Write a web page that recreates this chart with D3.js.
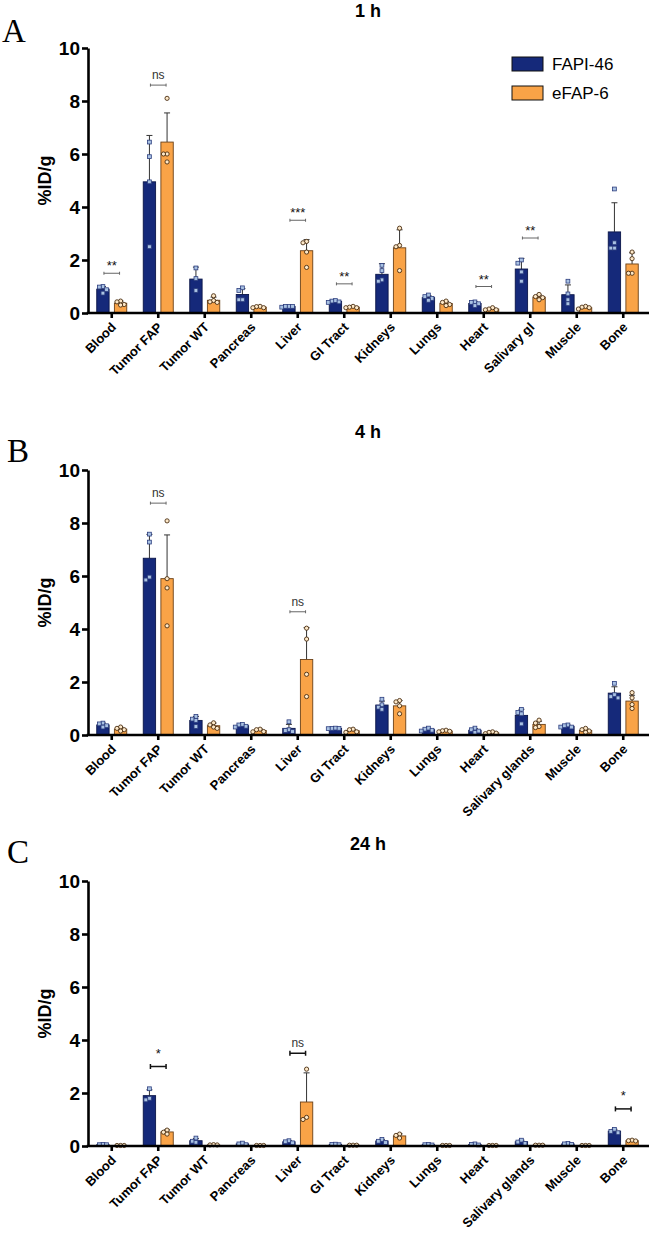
<!DOCTYPE html>
<html>
<head>
<meta charset="utf-8">
<script src="https://cdn.jsdelivr.net/npm/d3@7"></script>
<style>
  body { margin: 0; background: #fff; }
  svg { display: block; }
  text { font-family: "Liberation Sans", Arial, sans-serif; }
</style>
</head>
<body>
<svg id="chart" width="649" height="1243"></svg>
<script>
// ---- data ----
const organs1h = ['Blood','Tumor FAP','Tumor WT','Pancreas','Liver','GI Tract','Kidneys','Lungs','Heart','Salivary gl','Muscle','Bone'];
const organs = ['Blood','Tumor FAP','Tumor WT','Pancreas','Liver','GI Tract','Kidneys','Lungs','Heart','Salivary glands','Muscle','Bone'];
const series = ['FAPI-46', 'eFAP-6'];
const yTicks = [0, 2, 4, 6, 8, 10];

// 1 h
const fapiMean1h = [0.90, 4.95, 1.28, 0.70, 0.25, 0.44, 1.46, 0.58, 0.36, 1.66, 0.69, 3.06];
const fapiSd1h   = [0.10, 1.75, 0.45, 0.22, 0.02, 0.03, 0.40, 0.08, 0.06, 0.40, 0.37, 1.10];
const fapiPts1h = [
  [1.0, 0.98, 0.88, 0.75], [6.45, 5.9, 4.95, 2.5], [1.7, 1.3, 0.85], [0.95, 0.85, 0.5, 0.5],
  [0.25, 0.25, 0.25, 0.22], [0.47, 0.45, 0.42, 0.4], [1.8, 1.6, 1.25, 1.2], [0.68, 0.62, 0.55, 0.48],
  [0.42, 0.4, 0.35, 0.28], [2.0, 1.88, 1.55, 1.2], [1.2, 0.72, 0.5, 0.35], [4.68, 2.65, 2.45, 2.45]
];
const efapMean1h = [0.37, 6.45, 0.48, 0.22, 2.35, 0.22, 2.46, 0.36, 0.15, 0.60, 0.20, 1.85];
const efapSd1h   = [0.08, 1.10, 0.12, 0.03, 0.42, 0.03, 0.68, 0.07, 0.04, 0.08, 0.04, 0.42];
const efapPts1h = [
  [0.45, 0.42, 0.32, 0.3], [8.1, 6.0, 6.0, 5.7], [0.65, 0.47, 0.42, 0.4], [0.25, 0.24, 0.2, 0.2],
  [2.7, 2.65, 2.3, 1.72], [0.25, 0.22, 0.2, 0.2], [3.2, 2.55, 2.5, 1.6], [0.45, 0.4, 0.32, 0.28],
  [0.2, 0.15, 0.12, 0.12], [0.7, 0.62, 0.58, 0.5], [0.25, 0.22, 0.2, 0.15], [2.3, 2.05, 1.5, 1.5]
];
const sig1h = [
  { organ: 'Blood', y: 1.5, label: '**' }, { organ: 'Tumor FAP', y: 8.6, label: 'ns' },
  { organ: 'Liver', y: 3.5, label: '***' }, { organ: 'GI Tract', y: 1.1, label: '**' },
  { organ: 'Heart', y: 1.0, label: '**' }, { organ: 'Salivary gl', y: 2.83, label: '**' }
];

// 4 h
const fapiMean4h = [0.38, 6.67, 0.55, 0.35, 0.25, 0.25, 1.13, 0.20, 0.18, 0.74, 0.33, 1.58];
const fapiSd4h   = [0.07, 0.90, 0.15, 0.04, 0.15, 0.01, 0.15, 0.04, 0.06, 0.23, 0.04, 0.24];
const fapiPts4h = [
  [0.45, 0.42, 0.35, 0.3], [7.58, 7.28, 5.96, 5.85], [0.7, 0.6, 0.55, 0.32], [0.4, 0.38, 0.33, 0.3],
  [0.5, 0.2, 0.17, 0.13], [0.26, 0.25, 0.25, 0.24], [1.35, 1.14, 1.05, 0.97], [0.26, 0.22, 0.18, 0.15],
  [0.26, 0.2, 0.15, 0.1], [0.97, 0.85, 0.8, 0.42], [0.38, 0.35, 0.3, 0.3], [1.95, 1.52, 1.45, 1.4]
];
const efapMean4h = [0.22, 5.90, 0.35, 0.17, 2.85, 0.16, 1.10, 0.15, 0.08, 0.40, 0.17, 1.28];
const efapSd4h   = [0.07, 1.65, 0.10, 0.05, 1.20, 0.05, 0.20, 0.03, 0.03, 0.12, 0.06, 0.22];
const efapPts4h = [
  [0.3, 0.25, 0.2, 0.15], [8.08, 5.9, 5.55, 4.12], [0.46, 0.38, 0.3, 0.25], [0.22, 0.2, 0.13, 0.12],
  [4.03, 3.62, 2.29, 1.45], [0.22, 0.2, 0.12, 0.1], [1.3, 1.25, 1.1, 0.8], [0.18, 0.16, 0.14, 0.12],
  [0.12, 0.1, 0.07, 0.05], [0.56, 0.45, 0.32, 0.28], [0.25, 0.2, 0.15, 0.1], [1.6, 1.4, 1.15, 1.0]
];
const sig4h = [
  { organ: 'Tumor FAP', y: 8.75, label: 'ns' }, { organ: 'Liver', y: 4.65, label: 'ns' }
];

// 24 h
const fapiMean24h = [0.05, 1.90, 0.20, 0.08, 0.16, 0.06, 0.19, 0.05, 0.06, 0.16, 0.08, 0.56];
const fapiSd24h   = [0.01, 0.22, 0.08, 0.03, 0.04, 0.01, 0.06, 0.01, 0.02, 0.06, 0.02, 0.07];
const fapiPts24h = [
  [0.06, 0.05, 0.05], [2.16, 1.8, 1.74], [0.3, 0.18, 0.14], [0.11, 0.08, 0.05],
  [0.2, 0.16, 0.12], [0.07, 0.06, 0.05], [0.25, 0.18, 0.13], [0.06, 0.05, 0.04],
  [0.08, 0.06, 0.04], [0.22, 0.15, 0.1], [0.1, 0.08, 0.06], [0.63, 0.55, 0.5]
];
const efapMean24h = [0.02, 0.53, 0.04, 0.02, 1.66, 0.03, 0.38, 0.02, 0.02, 0.03, 0.02, 0.20];
const efapSd24h   = [0.00, 0.08, 0.01, 0.00, 1.10, 0.01, 0.08, 0.00, 0.00, 0.01, 0.00, 0.02];
const efapPts24h = [
  [0.02, 0.02, 0.02], [0.6, 0.52, 0.45], [0.05, 0.04, 0.04], [0.02, 0.02, 0.02],
  [2.9, 1.08, 1.0], [0.03, 0.03, 0.03], [0.45, 0.4, 0.3], [0.02, 0.02, 0.02],
  [0.02, 0.02, 0.02], [0.03, 0.03, 0.03], [0.02, 0.02, 0.02], [0.22, 0.2, 0.19]
];
const sig24h = [
  { organ: 'Tumor FAP', y: 3.0, label: '*' }, { organ: 'Liver', y: 3.5, label: 'ns' },
  { organ: 'Bone', y: 1.4, label: '*' }
];

// ---- style ----
const BLUE = '#15297a', BLUE_EDGE = '#0b1648', BLUE_PT = '#a9c2e3';
const ORANGE = '#f9a347', ORANGE_EDGE = '#6b4118', ORANGE_PT = '#fde8c8';

const panels = [
  { letter: 'A', lx: 2, ly: 42, title: '1 h', ty: 17, y0: 313, cats: organs1h, legend: true, bold: false,
    data: [[fapiMean1h, fapiSd1h, fapiPts1h], [efapMean1h, efapSd1h, efapPts1h]], sig: sig1h },
  { letter: 'B', lx: 7, ly: 462, title: '4 h', ty: 438, y0: 735, cats: organs, legend: false, bold: false,
    data: [[fapiMean4h, fapiSd4h, fapiPts4h], [efapMean4h, efapSd4h, efapPts4h]], sig: sig4h },
  { letter: 'C', lx: 7, ly: 863, title: '24 h', ty: 850, y0: 1146, cats: organs, legend: false, bold: true,
    data: [[fapiMean24h, fapiSd24h, fapiPts24h], [efapMean24h, efapSd24h, efapPts24h]], sig: sig24h }
];

const svg = d3.select('#chart');
panels.forEach(drawPanel);

// small beeswarm: spread points sideways when they would overlap
function swarm(vals, y, size) {
  const placed = [];
  return vals.map(v => {
    const py = y(v);
    const cands = [0, -size, size, -2 * size, 2 * size];
    let off = 0;
    for (const c of cands) {
      if (!placed.some(p => Math.abs(p.y - py) < size && Math.abs(p.x - c) < size)) { off = c; break; }
    }
    placed.push({ x: off, y: py });
    return { v, dx: off };
  });
}

function drawPanel(p) {
  const y = d3.scaleLinear().domain([0, 10]).range([p.y0, p.y0 - 265]);
  const x = d3.scaleBand().domain(p.cats).range([88.5, 646.5]);
  const xs = d3.scaleBand().domain(series).range([-15, 15]).paddingInner(0.3);
  const c = d => x(d) + x.bandwidth() / 2;
  const g = svg.append('g');

  g.append('text').attr('x', p.lx).attr('y', p.ly)
    .style('font-family', '"Liberation Serif", "Times New Roman", serif')
    .style('font-size', '33px').text(p.letter);

  g.append('text').attr('x', 368).attr('y', p.ty).attr('text-anchor', 'middle')
    .style('font-size', '18px').style('font-weight', 'bold').text(p.title);

  g.append('text')
    .attr('transform', `translate(51,${y(5)}) rotate(-90)`)
    .attr('text-anchor', 'middle')
    .style('font-size', '18px').style('font-weight', 'bold').text('%ID/g');

  // bars, error bars, points
  p.data.forEach(([mean, sd, pts], si) => {
    const s = series[si];
    const fill = si === 0 ? BLUE : ORANGE;
    const edge = si === 0 ? BLUE_EDGE : ORANGE_EDGE;
    const rows = p.cats.map((cat, i) => ({ cat, mean: mean[i], sd: sd[i], pts: pts[i] }));
    const bx = d => c(d.cat) + xs(s);
    const mid = d => bx(d) + xs.bandwidth() / 2;

    g.append('g').selectAll('g').data(rows.filter(d => d.sd > 0)).join('g')
      .each(function (d) {
        const e = d3.select(this);
        e.append('line').attr('x1', mid(d)).attr('x2', mid(d))
          .attr('y1', y(d.mean)).attr('y2', y(d.mean + d.sd))
          .attr('stroke', '#333').attr('stroke-width', 1);
        e.append('line').attr('x1', mid(d) - 3).attr('x2', mid(d) + 3)
          .attr('y1', y(d.mean + d.sd)).attr('y2', y(d.mean + d.sd))
          .attr('stroke', '#333').attr('stroke-width', 1);
      });

    g.append('g').selectAll('rect').data(rows).join('rect')
      .attr('x', bx).attr('width', xs.bandwidth())
      .attr('y', d => y(d.mean)).attr('height', d => y(0) - y(d.mean))
      .attr('fill', fill).attr('stroke', edge).attr('stroke-width', 0.9);

    rows.forEach(d => {
      const sw = swarm(d.pts, y, 3.6);
      const pg = g.append('g');
      if (si === 0) {
        pg.selectAll('rect').data(sw).join('rect')
          .attr('x', q => mid(d) + q.dx - 1.9).attr('y', q => y(q.v) - 1.9)
          .attr('width', 3.8).attr('height', 3.8)
          .attr('fill', BLUE_PT).attr('stroke', '#2c3d7e').attr('stroke-width', 0.8);
      } else {
        pg.selectAll('circle').data(sw).join('circle')
          .attr('cx', q => mid(d) + q.dx).attr('cy', q => y(q.v)).attr('r', 2.1)
          .attr('fill', ORANGE_PT).attr('stroke', '#4a2e12').attr('stroke-width', 0.9);
      }
    });
  });

  // significance brackets
  p.sig.forEach(sg => {
    const x1 = c(sg.organ) + xs(series[0]) + xs.bandwidth() / 2 + 1;
    const x2 = c(sg.organ) + xs(series[1]) + xs.bandwidth() / 2 - 1;
    const yy = y(sg.y);
    const col = p.bold ? '#111' : '#666';
    const sw = p.bold ? 1.5 : 1;
    const th = p.bold ? 2.5 : 1.5;
    const b = g.append('g').attr('stroke', col).attr('stroke-width', sw);
    b.append('line').attr('x1', x1).attr('x2', x2).attr('y1', yy).attr('y2', yy);
    b.append('line').attr('x1', x1).attr('x2', x1).attr('y1', yy - th).attr('y2', yy + th);
    b.append('line').attr('x1', x2).attr('x2', x2).attr('y1', yy - th).attr('y2', yy + th);
    const ns = sg.label === 'ns';
    g.append('text').attr('x', (x1 + x2) / 2)
      .attr('y', yy - (p.bold ? (ns ? 6 : 9) : (ns ? 6 : 3)))
      .attr('text-anchor', 'middle')
      .attr('fill', ns ? '#333' : '#111')
      .style('font-size', ns ? '12px' : '13px')
      .text(sg.label);
  });

  // y axis
  const ya = g.append('g').attr('transform', 'translate(88,0)')
    .call(d3.axisLeft(y).tickValues(yTicks).tickSize(6).tickSizeOuter(0).tickPadding(2));
  ya.selectAll('path, line').attr('stroke', '#000').attr('stroke-width', 2.6);
  ya.selectAll('text').style('font-size', '19px').style('font-weight', 'bold')
    .style('font-family', '"Liberation Sans", Arial, sans-serif').attr('fill', '#000');

  // x axis (ticks only; slanted labels)
  const xa = g.append('g').attr('transform', `translate(0,${p.y0})`)
    .call(d3.axisBottom(x).tickSize(5).tickSizeOuter(0).tickFormat(''));
  xa.select('.domain').remove();
  xa.selectAll('line').attr('stroke', '#000').attr('stroke-width', 2.6);
  g.append('g').selectAll('text').data(p.cats).join('text')
    .attr('transform', d => `translate(${c(d) + 5},${p.y0 + 15}) rotate(-45)`)
    .attr('text-anchor', 'end')
    .style('font-size', '13px').style('font-weight', 'bold')
    .attr('fill', '#000')
    .text(d => d);
  g.append('line').attr('x1', 86.7).attr('x2', 649).attr('y1', p.y0).attr('y2', p.y0)
    .attr('stroke', '#000').attr('stroke-width', 2.6);

  if (p.legend) {
    const lg = g.append('g').selectAll('g').data(series).join('g')
      .attr('transform', (d, i) => `translate(512,${57 + i * 29})`);
    lg.append('rect').attr('width', 31).attr('height', 14)
      .attr('fill', (d, i) => i === 0 ? BLUE : ORANGE).attr('stroke', '#111').attr('stroke-width', 1);
    lg.append('text').attr('x', 40).attr('y', 13).style('font-size', '17px').text(d => d);
  }
}
</script>
</body>
</html>
